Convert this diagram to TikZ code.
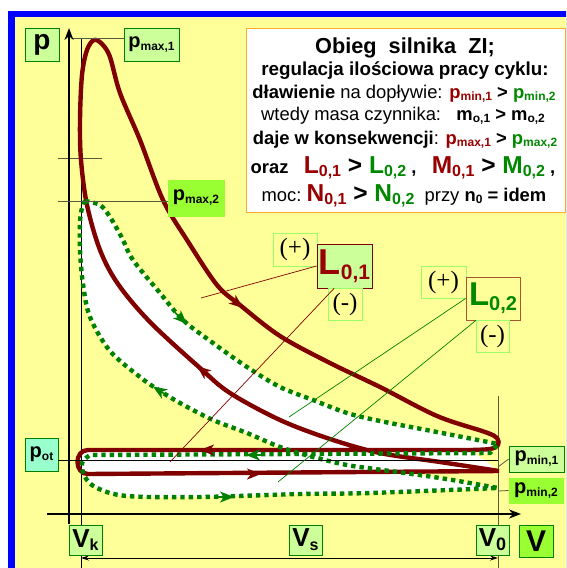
\documentclass[tikz,border=0pt]{standalone}
\usepackage{fontspec}
\setmainfont{Liberation Sans}
\newfontfamily\serifx{Liberation Serif}
\usetikzlibrary{arrows.meta}
\definecolor{bgyel}{RGB}{255,255,153}
\definecolor{lgreen}{RGB}{204,255,153}
\definecolor{bgreen}{RGB}{153,255,51}
\definecolor{aqua}{RGB}{153,255,204}
\definecolor{bdgreen}{RGB}{0,128,0}
\definecolor{pgreen}{RGB}{153,255,102}
\definecolor{dred}{RGB}{128,0,0}
\definecolor{txred}{RGB}{153,0,0}
\definecolor{txgreen}{RGB}{0,136,0}
\definecolor{orng}{RGB}{255,170,40}
\definecolor{brn}{RGB}{170,85,50}
\definecolor{gline}{RGB}{90,90,60}
\newcommand{\subx}[2]{\raisebox{-0.15em}{\fontsize{#1}{#1}\selectfont #2}}
\newcommand{\fs}[1]{\fontsize{#1}{#1}\selectfont}
\tikzset{
  box/.style={draw=bdgreen, line width=0.8pt, inner sep=0pt, font=\bfseries},
  pm/.style={draw=pgreen, line width=0.8pt, inner sep=0pt, font=\serifx\fs{25}, minimum width=#1},
  tline/.style={anchor=base, inner sep=0pt, font=\fs{18.4}},
  redc/.style={draw=dred, line width=4.4pt, line join=round},
  grnc/.style={draw=bdgreen, line width=4.4pt, dash pattern=on 4.4pt off 4pt},
  redtip/.style={dred, line width=1.6pt, -{Stealth[length=14pt,width=11pt,inset=4pt]}},
  grntip/.style={bdgreen, line width=1.6pt, -{Stealth[length=14pt,width=11pt,inset=4pt]}},
  thin/.style={line width=0.8pt},
  axis/.style={line width=2.8pt, -{Stealth[length=12pt,width=9pt]}},
  lead/.style={line width=0.7pt}
}
\begin{document}
\begin{tikzpicture}[x=1pt,y=-1pt]
\useasboundingbox (0,0) rectangle (566,568);
\clip (0,0) rectangle (566,568);
% background
\fill[white] (0,0) rectangle (566,568);
\fill[blue] (8,11) rectangle (570,572);
\fill[bgyel] (15,17) rectangle (570,572);

% white fills of the cycles
\fill[white] plot[smooth,tension=0.55] coordinates {(85,201) (100,205) (110,217) (122,238) (133,260) (160,293) (183,320) (213,343) (247,367) (280,387) (313,400) (347,413) (380,421) (437,432) (498,444)}
  -- (490,453) -- (90,455)
  -- plot[smooth,tension=0.55] coordinates {(90,455) (82,463) (85,477) (97,488) (127,496) (200,497) (300,494) (370,493) (498,488)}
  -- plot[smooth,tension=0.55] coordinates {(498,488) (440,478) (375,469) (347,465) (313,457) (280,447) (247,433) (213,420) (180,403) (157,389) (140,377) (110,351) (90,317) (83,284) (80,250) (80,222) (82,208) (85,201)} -- cycle;
\fill[white] (88,450) -- (470,450) -- (499,471) -- (88,474) .. controls (74,474) and (74,450) .. (88,450);

% thin reference lines
\coordinate (vktop) at (81,38);
\coordinate (vkbot) at (81,570);
\coordinate (v0top) at (498,396);
\coordinate (v0bot) at (498,570);
\draw[thin] (vktop) -- (vkbot);
\draw[thin, gline] (v0top) -- (v0bot);
\coordinate (pm1a) at (73,38);
\coordinate (gla) at (58,158);
\coordinate (glb) at (102,158);
\coordinate (pm2a) at (58,201);
\coordinate (pota) at (498,460);
\draw[thin, gline] (gla) -- (glb);
\coordinate (dimL) at (81,558);
\coordinate (dimR) at (498,558);
\draw[line width=0.9pt, {Stealth[length=8pt,width=5pt]}-{Stealth[length=8pt,width=5pt]}] (dimL) -- (dimR);

% axes
\coordinate (pax0) at (69,524);
\coordinate (pax1) at (69,28);
\coordinate (vax0) at (47,514);
\coordinate (vax1) at (521,514);
\draw[axis] (pax0) -- (pax1);
\draw[axis] (vax0) -- (vax1);

% red cycle
\draw[redc] plot[smooth,tension=0.55] coordinates {(499,471) (440,462) (380,453) (330,439) (280,420) (230,393) (200,368) (150,322) (118,284) (100,250) (87,205) (81,160) (80,120) (82,75) (87,50) (94,40) (102,44) (110,57) (120,93) (140,140) (163,200) (187,240) (217,285) (240,305) (280,336) (330,363) (380,387) (437,416) (485,432) (497,438) (498,445) (490,449) (470,450)}
  -- (88,450) .. controls (74,450) and (74,474) .. (88,474) -- (499,471);
% green cycle
\draw[grnc] plot[smooth,tension=0.55] coordinates {(85,201) (100,205) (110,217) (122,238) (133,260) (160,293) (183,320) (213,343) (247,367) (280,387) (313,400) (347,413) (380,421) (437,432) (498,444)}
  -- (490,453) -- (90,455)
  -- plot[smooth,tension=0.55] coordinates {(90,455) (82,463) (85,477) (97,488) (127,496) (200,497) (300,494) (370,493) (498,488)}
  -- plot[smooth,tension=0.55] coordinates {(498,488) (440,478) (375,469) (347,465) (313,457) (280,447) (247,433) (213,420) (180,403) (157,389) (140,377) (110,351) (90,317) (83,284) (80,250) (80,222) (82,208) (85,201)};

% direction arrows
\draw[redtip] (230,297.5) -- (243,308);
\draw[redtip] (210,376.5) -- (197,366);
\draw[redtip] (218,450) -- (200,450);
\draw[redtip] (243,474) -- (261,474);
\draw[grntip] (175,312.5) -- (187,324);
\draw[grntip] (167,395.5) -- (153,386.5);
\draw[grntip] (264,455) -- (246,455);
\draw[grntip] (217,497) -- (234,497);

% text box
\node[draw=orng, fill=white, line width=1pt, minimum width=319pt, minimum height=184pt, inner sep=0pt] (info) at (405.5,120) {};
\node[tline, font=\fs{21.7}\bfseries] (t1) at (405,53) {Obieg\ \ silnika\ \ ZI;};
\node[tline, font=\fs{18.8}\bfseries] (t2) at (405,75) {regulacja ilościowa pracy cyklu:};
\node[tline] (t3) at (404,98) {\textbf{dławienie} na dopływie: \textcolor{txred}{\textbf{p\subx{12}{min,1}}} \textbf{>} \textcolor{txgreen}{\textbf{p\subx{12}{min,2}}}};
\node[tline] (t4) at (403,120) {wtedy masa czynnika:\ \ \ \textbf{m\subx{12}{o,1} > m\subx{12}{o,2}}};
\node[tline] (t5) at (405,144) {\textbf{daje w konsekwencji}: \textcolor{txred}{\textbf{p\subx{12}{max,1}}} \textbf{>} \textcolor{txgreen}{\textbf{p\subx{12}{max,2}}}};
\node[tline] (t6) at (403,173) {\textbf{oraz}\ \ \ {\fs{24.5}\bfseries\textcolor{txred}{L\subx{16}{0,1}} > \textcolor{txgreen}{L\subx{16}{0,2}}} \textbf{,}\ \ \ {\fs{24.5}\bfseries\textcolor{txred}{M\subx{16}{0,1}} > \textcolor{txgreen}{M\subx{16}{0,2}}} \textbf{,}};
\node[tline] (t7) at (404,201) {moc:\ {\fs{24.5}\bfseries\textcolor{txred}{N\subx{16}{0,1}} > \textcolor{txgreen}{N\subx{16}{0,2}}}\ \ przy \textbf{n\subx{12}{0} = idem}};

% axis labels
\node[box, fill=lgreen, minimum width=34pt, minimum height=33pt] (plab) at (42,44.5) {\fs{28}p};
\node[box, fill=lgreen, minimum width=55pt, minimum height=33pt] (pmax1) at (151.5,44.5) {\fs{20}p\subx{12}{max,1}};
\node[box, draw=bgreen, fill=bgreen, minimum width=56pt, minimum height=36pt] (pmax2) at (196,198) {\fs{20}p\subx{12}{max,2}};
\node[box, fill=aqua, minimum width=33pt, minimum height=33pt] (pot) at (41.5,454.5) {\fs{20}p\subx{12}{ot}};
\node[box, fill=lgreen, minimum width=55pt, minimum height=26pt] (pmin1) at (536.5,459) {\fs{20}p\subx{12}{min,1}};
\node[box, draw=bgreen, fill=bgreen, minimum width=54pt, minimum height=25pt] (pmin2) at (536,490.5) {\fs{20}p\subx{12}{min,2}};
\node[box, fill=lgreen, minimum width=33pt, minimum height=30pt] (vk) at (85.5,540) {\fs{26}V\subx{16}{k}};
\node[box, fill=lgreen, minimum width=33pt, minimum height=30pt] (vs) at (305.5,540) {\fs{26}V\subx{16}{s}};
\node[box, fill=lgreen, minimum width=33pt, minimum height=30pt] (v0) at (492.5,540) {\fs{26}V\subx{18}{0}};
\node[box, fill=bgreen, minimum width=34pt, minimum height=32pt] (vbig) at (536,541) {\fs{30}V};

% work labels
\node[pm=44pt, minimum height=33pt] (plus1) at (295,249.5) {(+)};
\node[box, draw=dred, fill=lgreen, minimum width=55pt, minimum height=44pt, text=txred] (L01) at (344.5,266) {\fs{36}L\subx{21}{0,1}};
\node[pm=34pt, minimum height=32pt] (minus1) at (345,304) {(-)};
\node[pm=45pt, minimum height=32pt] (plus2) at (443.5,282) {(+)};
\node[box, draw=brn, minimum width=54pt, minimum height=43pt, text=txgreen] (L02) at (493,298.5) {\fs{33}L\subx{20}{0,2}};
\node[pm=33pt, minimum height=32pt] (minus2) at (492.5,336) {(-)};

% reference lines to labels
\draw[thin, gline] (pm1a) -- (pmax1.west |- pm1a);
\draw[thin, gline] (pm2a) -- (pmax2.west |- pm2a);
\draw[thin] (pot.east |- pota) -- (pota);
\coordinate (pmin1a) at (498,467);
\coordinate (pmin2a) at (498,491);
\draw[thin, gline] (pmin1a) -- (pmin1.west);
\draw[thin, gline] (pmin2a) -- (pmin2.west);

% leader lines
\coordinate (l1a) at (201,298);
\coordinate (l1b) at (170,462);
\coordinate (l2a) at (289,417);
\coordinate (l2b) at (278,482);
\draw[lead, dred] (L01.west) -- (l1a);
\draw[lead, dred] (L01.-115) -- (l1b);
\draw[lead, bdgreen] (L02.west) -- (l2a);
\draw[lead, bdgreen] (L02.-128) -- (l2b);
\end{tikzpicture}
\end{document}
